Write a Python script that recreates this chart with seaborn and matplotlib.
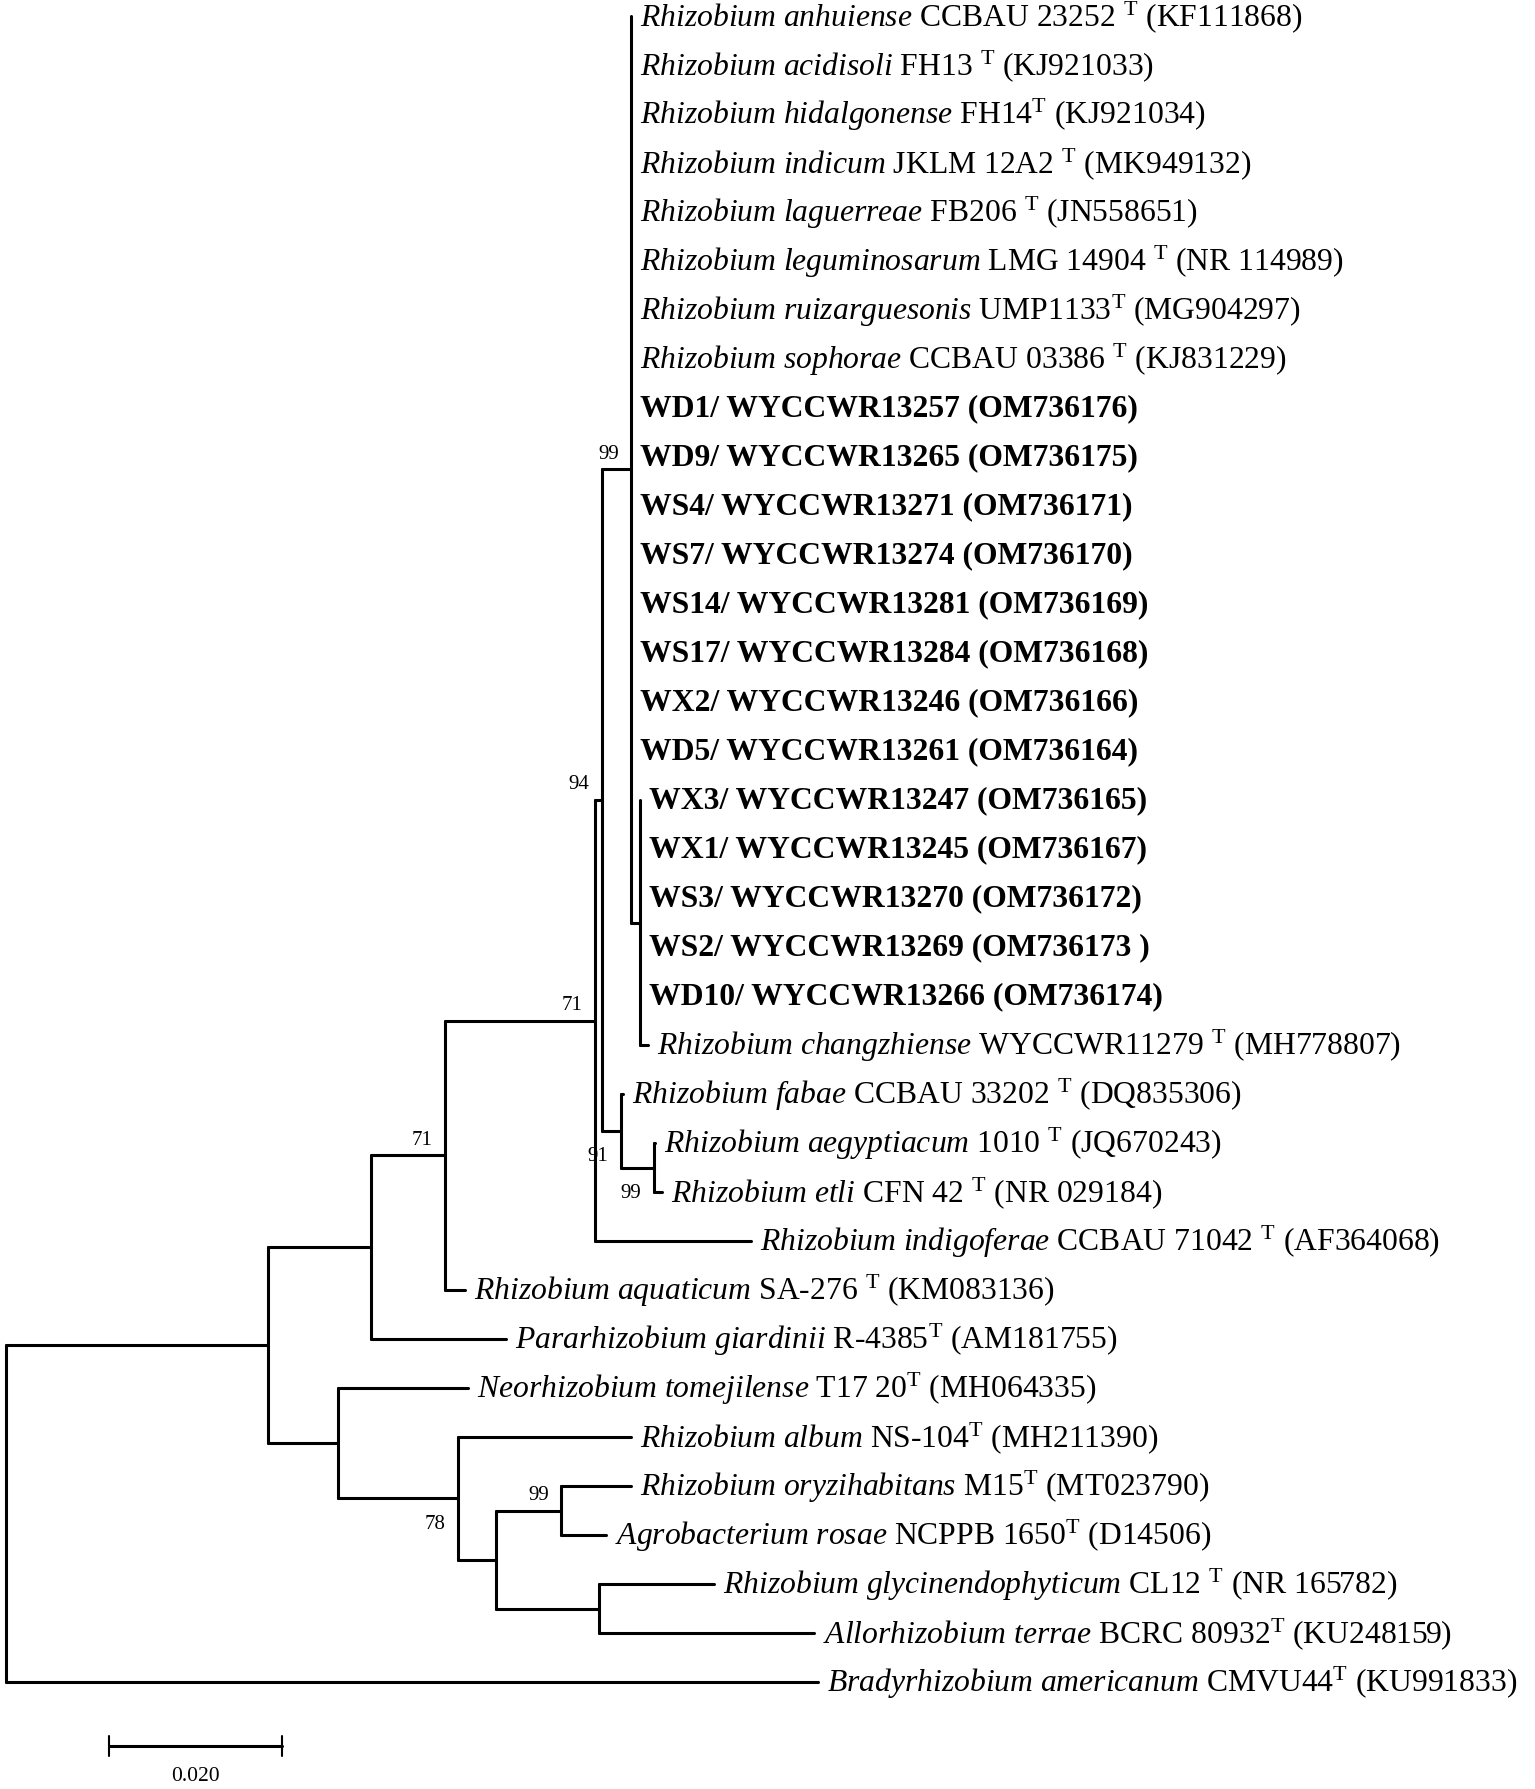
import matplotlib
matplotlib.use("Agg")
import matplotlib.pyplot as plt
import seaborn as sns
import pandas as pd

# ---- leaf labels, top to bottom ----
species = [
    "Rhizobium anhuiense", "Rhizobium acidisoli", "Rhizobium hidalgonense",
    "Rhizobium indicum", "Rhizobium laguerreae", "Rhizobium leguminosarum",
    "Rhizobium ruizarguesonis", "Rhizobium sophorae",
    None, None, None, None, None, None, None, None,
    None, None, None, None, None,
    "Rhizobium changzhiense", "Rhizobium fabae", "Rhizobium aegyptiacum",
    "Rhizobium etli", "Rhizobium indigoferae", "Rhizobium aquaticum",
    "Pararhizobium giardinii", "Neorhizobium tomejilense", "Rhizobium album",
    "Rhizobium oryzihabitans", "Agrobacterium rosae",
    "Rhizobium glycinendophyticum", "Allorhizobium terrae",
    "Bradyrhizobium americanum",
]
strains = [
    "CCBAU 23252 ", "FH13 ", "FH14", "JKLM 12A2 ", "FB206 ", "LMG 14904 ",
    "UMP1133", "CCBAU 03386 ",
    "WD1/ WYCCWR13257", "WD9/ WYCCWR13265", "WS4/ WYCCWR13271",
    "WS7/ WYCCWR13274", "WS14/ WYCCWR13281", "WS17/ WYCCWR13284",
    "WX2/ WYCCWR13246", "WD5/ WYCCWR13261",
    "WX3/ WYCCWR13247", "WX1/ WYCCWR13245", "WS3/ WYCCWR13270",
    "WS2/ WYCCWR13269", "WD10/ WYCCWR13266",
    "WYCCWR11279 ", "CCBAU 33202 ", "1010 ", "CFN 42 ", "CCBAU 71042 ",
    "SA-276 ", "R-4385", "T17 20", "NS-104", "M15", "NCPPB 1650",
    "CL12 ", "BCRC 80932", "CMVU44",
]
accessions = [
    "KF111868", "KJ921033", "KJ921034", "MK949132", "JN558651", "NR 114989",
    "MG904297", "KJ831229",
    "OM736176", "OM736175", "OM736171", "OM736170", "OM736169", "OM736168",
    "OM736166", "OM736164",
    "OM736165", "OM736167", "OM736172", "OM736173 ", "OM736174",
    "MH778807", "DQ835306", "JQ670243", "NR 029184", "AF364068", "KM083136",
    "AM181755", "MH064335", "MH211390", "MT023790", "D14506", "NR 165782",
    "KU248159", "KU991833",
]

# ---- tree: parent node and branch length of every leaf ----
leaf_parent = ["G"] * 16 + ["J"] * 6 + [
    "H", "I", "I", "E", "D", "B", "C", "K", "M", "M", "N", "N", "root"]
leaf_length = [0.0] * 21 + [
    0.0009, 0.0002, 0.0001, 0.0009, 0.0180, 0.0023, 0.0156, 0.0150,
    0.0200, 0.0081, 0.0052, 0.0133, 0.0249, 0.0939]

# internal nodes in pre-order
clade_names = ["root", "A", "B", "D", "E", "F", "G", "J", "H", "I",
               "C", "K", "L", "M", "N"]
clade_parent = [None, "root", "A", "B", "D", "E", "F", "G", "F", "H",
                "A", "C", "K", "L", "L"]
clade_length = [0.0, 0.0303, 0.0119, 0.0086, 0.0173, 0.0008, 0.0034,
                0.0010, 0.0022, 0.0038, 0.0081, 0.0139, 0.0044, 0.0075,
                0.0118]

# bootstrap values
support_nodes = ["G", "F", "E", "D", "H", "I", "K", "M"]
support_values = [99, 94, 71, 71, 91, 99, 78, 99]
support_below = ["H", "I", "K"]

scale_length = 0.020

# ---- layout (pixels) ----
W, H = 1535, 1790
PX_PER_UNIT = 173 / 0.02
X0_PX = 6
ROW0_PX, ROW_PX = 17, 49


def px_x(p):
    return p / PX_PER_UNIT


def px_y(p):
    return p / ROW_PX


# node positions
xpos = {}
for name, par, ln in zip(clade_names, clade_parent, clade_length):
    xpos[name] = (xpos[par] if par else 0.0) + ln

child_y = {name: [] for name in clade_names}
for i, par in enumerate(leaf_parent):
    child_y[par].append(i)
ypos = {}
for name, par in reversed(list(zip(clade_names, clade_parent))):
    ys = child_y[name]
    ypos[name] = (min(ys) + max(ys)) / 2
    if par:
        child_y[par].append(ypos[name])

# branch segments
rows = []
seg = 0
for i, (par, ln) in enumerate(zip(leaf_parent, leaf_length)):
    rows += [(seg, xpos[par], i), (seg, xpos[par] + ln, i)]
    seg += 1
for name, par in zip(clade_names, clade_parent):
    if par:
        rows += [(seg, xpos[par], ypos[name]), (seg, xpos[name], ypos[name])]
        seg += 1
    rows += [(seg, xpos[name], min(child_y[name])),
             (seg, xpos[name], max(child_y[name]))]
    seg += 1
segments = pd.DataFrame(rows, columns=["seg", "x", "y"])

sns.set_theme(style="white")
plt.rcParams["font.family"] = ["Liberation Serif", "DejaVu Serif"]
plt.rcParams["mathtext.fontset"] = "custom"
plt.rcParams["mathtext.rm"] = "Liberation Serif"
plt.rcParams["mathtext.it"] = "Liberation Serif:italic"
plt.rcParams["mathtext.bf"] = "Liberation Serif:bold"

fig = plt.figure(figsize=(W / 100, H / 100), dpi=100)
ax = fig.add_axes([0, 0, 1, 1])
sns.lineplot(data=segments, x="x", y="y", units="seg", estimator=None,
             sort=False, color="black", linewidth=2.2, ax=ax, legend=False)

# leaf labels
label_gap = px_x(9)
for i, (sp, st, acc) in enumerate(zip(species, strains, accessions)):
    tip = xpos[leaf_parent[i]] + leaf_length[i]
    if sp is None:
        ax.text(tip + label_gap, i, f"{st} ({acc})", fontsize=22.8,
                fontweight="bold", ha="left", va="center", color="black")
    else:
        sp_tex = sp.replace(" ", r"\ ")
        txt = rf"$\mathit{{{sp_tex}}}$ {st}$^{{\mathrm{{T}}}}$ ({acc})"
        ax.text(tip + label_gap, i, txt, fontsize=22.8, ha="left",
                va="center", color="black")

# bootstrap labels
for node, val in zip(support_nodes, support_values):
    dy = px_y(25) if node in support_below else -px_y(16)
    ax.text(xpos[node] - px_x(23), ypos[node] + dy, str(val), fontsize=15,
            ha="center", va="center", color="black")

# scale bar
sb_x = px_x(109 - X0_PX)
sb_y = px_y(1747 - ROW0_PX)
tick = px_y(10)
ax.plot([sb_x, sb_x + scale_length], [sb_y, sb_y], color="black", lw=2.2)
for xx in (sb_x, sb_x + scale_length):
    ax.plot([xx, xx], [sb_y - tick, sb_y + tick], color="black", lw=1.5)
ax.text(sb_x + scale_length / 2, px_y(1777 - ROW0_PX), f"{scale_length:.3f}",
        fontsize=15.5, ha="center", va="center", color="black")

ax.set_xlim(px_x(-X0_PX), px_x(W - X0_PX))
ax.set_ylim(px_y(H - ROW0_PX), px_y(-ROW0_PX))
ax.set_axis_off()

fig.savefig("out.png", dpi=100, facecolor="white")
